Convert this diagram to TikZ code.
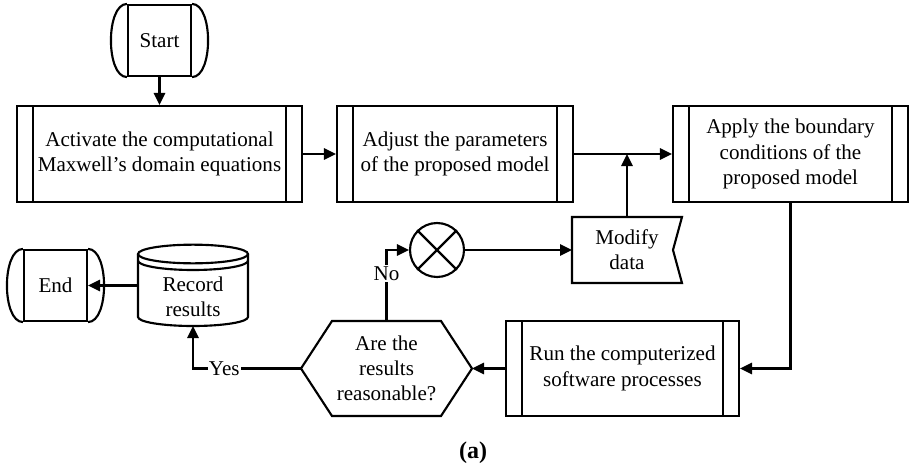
\documentclass[tikz,border=0pt]{standalone}
\usepackage{fontspec}
\setmainfont{Liberation Serif}
\usetikzlibrary{arrows.meta}
\begin{document}
\begin{tikzpicture}[x=0.75pt,y=-0.75pt,
  line width=1.6pt,
  font=\fontsize{15.8pt}{19pt}\selectfont,
  arr/.style={-{Triangle[length=9pt,width=8.5pt]}},
  % predefined-process box with the two inner bars
  proc/.style={draw, rectangle, align=center, inner sep=0pt,
    minimum height=72pt,
    path picture={
      \draw[line width=1.6pt]
        ([xshift=12pt]path picture bounding box.north west) -- ([xshift=12pt]path picture bounding box.south west)
        ([xshift=-12pt]path picture bounding box.north east) -- ([xshift=-12pt]path picture bounding box.south east);
    }},
  plain/.style={rectangle, align=center, inner sep=0pt, outer sep=0pt},
  term/.style={draw, rectangle, align=center, inner sep=0pt,
    minimum width=47.25pt, minimum height=53.25pt},
  lbl/.style={fill=white, inner sep=1pt},
]
\useasboundingbox (0,0) rectangle (911,468);

% terminals
\node[term] (Start) at (159.5,40.5) {Start};
\draw (Start.north west) .. controls +(-16pt,0) and +(-16pt,0) .. (Start.south west);
\draw (Start.north east) .. controls +(16pt,0) and +(16pt,0) .. (Start.south east);

\node[term] (End) at (55.5,285.5) {End};
\draw (End.north west) .. controls +(-16pt,0) and +(-16pt,0) .. (End.south west);
\draw (End.north east) .. controls +(16pt,0) and +(16pt,0) .. (End.south east);

% process boxes
\node[proc, minimum width=213.75pt] (B1) at (159.5,154) {Activate the computational\\Maxwell's domain equations};
\node[proc, minimum width=177pt] (B2) at (455,154) {Adjust the parameters\\of the proposed model};
\node[proc, minimum width=176.25pt] (B3) at (790.5,154) {Apply the boundary\\conditions of the\\proposed model};
\node[proc, minimum width=174.75pt, minimum height=71.25pt] (Run) at (622.5,368.5) {Run the computerized\\software processes};

% decision hexagon
\node[plain, minimum width=128.25pt, minimum height=71.25pt] (Dec) at (386.5,368.5) {Are the\\results\\reasonable?};
\draw (Dec.west) -- ([xshift=23.25pt]Dec.north west) -- ([xshift=-23.25pt]Dec.north east)
  -- (Dec.east) -- ([xshift=-23.25pt]Dec.south east) -- ([xshift=23.25pt]Dec.south west) -- cycle;

% stored data
\node[plain, minimum width=82.5pt, minimum height=49.5pt] (Mod) at (627,250) {Modify\\data};
\draw (Mod.north west) -- (Mod.north east) -- ([xshift=-6.75pt]Mod.east)
  -- (Mod.south east) -- (Mod.south west) -- cycle;

% summing junction
\node[draw, circle, minimum size=40.5pt, inner sep=0pt] (Xc) at (437,250) {};
\draw (Xc.north west) -- (Xc.south east) (Xc.north east) -- (Xc.south west);

% database: the label sits a little below the middle of the drum
\node[plain, minimum width=82.5pt, minimum height=54pt] (Rec) at (193,297) {Record\\results};
\coordinate (RecTop) at ([yshift=5.25pt]Rec.north);
\coordinate (RecBot) at ([yshift=5.25pt]Rec.south);
\draw (RecTop) ellipse [x radius=41.25pt, y radius=7pt];
\draw (RecTop -| Rec.west) -- ([yshift=6.75pt]RecBot -| Rec.west)
  arc[start angle=180, end angle=360, x radius=41.25pt, y radius=6.75pt] -- (RecTop -| Rec.east);
\draw ([yshift=-5pt]RecTop -| Rec.west) arc[start angle=180, end angle=360, x radius=41.25pt, y radius=7pt];

% connectors
\draw[arr] (Start.south) -- (B1.north);
\draw[arr] (B1.east) -- (B2.west);
\draw[arr] (B2.east) -- (B3.west);
\coordinate (J) at (Mod.north |- B2.east);
\draw[arr] (Mod.north) -- (J);
\draw[arr] (B3.south) |- (Run.east);
\draw[arr] (Run.west) -- (Dec.east);
\draw[arr] (Dec.north) |- node[lbl, pos=0.335] {No} (Xc.west);
\draw[arr] (Xc.east) -- (Mod.west);
\draw[arr] (Dec.west) -| node[lbl, pos=0.355] {Yes} (RecBot);
\draw[arr] (Rec.west |- End.east) -- (End.east);

% caption
\node[font=\bfseries\fontsize{18pt}{21pt}\selectfont] (cap) at (473,453) {(a)};
\end{tikzpicture}
\end{document}
